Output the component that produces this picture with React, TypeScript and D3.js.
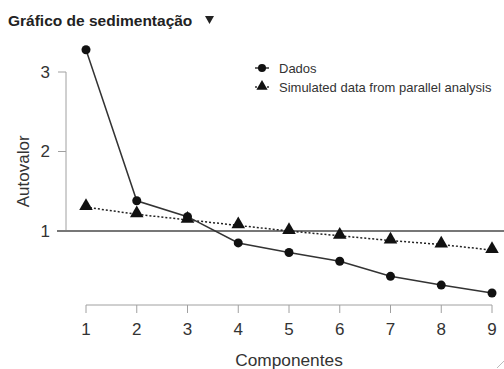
import React from "react"
import * as d3 from "d3"

const componentes = [1, 2, 3, 4, 5, 6, 7, 8, 9]
const dados = [3.28, 1.38, 1.18, 0.85, 0.73, 0.62, 0.43, 0.32, 0.22]
const simulados = [1.3, 1.21, 1.14, 1.07, 1.0, 0.94, 0.88, 0.83, 0.76]
const yTicks = [1, 2, 3]
const legendLabels = ["Dados", "Simulated data from parallel analysis"]

const W = 504
const H = 369
const font = "Arial, 'Liberation Sans', sans-serif"

const App = () => {
  const x = d3.scaleLinear().domain([1, 9]).range([86, 492])
  const y = d3.scaleLinear().domain([1, 3]).range([231, 72])

  const line = d3
    .line<number>()
    .x((d, i) => x(componentes[i]))
    .y(d => y(d))

  const tri = d3.symbol().type(d3.symbolTriangle).size(80)()
  const triSmall = d3.symbol().type(d3.symbolTriangle).size(55)()
  const axisGray = "#a0a0a0"

  return (
    <svg
      width={W}
      height={H}
      style={{ position: "absolute", left: 0, top: 0, background: "#fff" }}
      fontFamily={font}
    >
      {/* title */}
      <text x={8} y={26} fontSize={15.5} fontWeight="bold" fill="#222">
        Gráfico de sedimentação
      </text>
      <path d="M205,16 L214,16 L209.5,24 Z" fill="#222" />

      {/* y axis */}
      <line x1={66} x2={66} y1={y(3)} y2={y(1)} stroke={axisGray} />
      {yTicks.map(t => (
        <g key={t}>
          <line x1={58} x2={66} y1={y(t)} y2={y(t)} stroke={axisGray} />
          <text
            x={50}
            y={y(t)}
            dy="0.35em"
            textAnchor="end"
            fontSize={17}
            fill="#333"
          >
            {t}
          </text>
        </g>
      ))}
      <text
        transform={`translate(23,${y(1.75)}) rotate(-90)`}
        textAnchor="middle"
        dy="0.35em"
        fontSize={17}
        fill="#333"
      >
        Autovalor
      </text>

      {/* x axis */}
      <line x1={x(1)} x2={x(9)} y1={305} y2={305} stroke={axisGray} />
      {componentes.map(c => (
        <g key={c}>
          <line x1={x(c)} x2={x(c)} y1={305} y2={313} stroke={axisGray} />
          <text
            x={x(c)}
            y={329}
            dy="0.35em"
            textAnchor="middle"
            fontSize={17}
            fill="#333"
          >
            {c}
          </text>
        </g>
      ))}
      <text x={289} y={360} dy="0.35em" textAnchor="middle" fontSize={17.3} fill="#333">
        Componentes
      </text>

      {/* reference line at eigenvalue 1 */}
      <line x1={57} x2={W} y1={y(1)} y2={y(1)} stroke="#777" strokeWidth={2} />

      {/* simulated series */}
      <path
        d={line(simulados) || ""}
        fill="none"
        stroke="#222"
        strokeWidth={1.5}
        strokeDasharray="2,2"
      />
      {simulados.map((v, i) => (
        <path key={i} d={tri || ""} transform={`translate(${x(componentes[i])},${y(v) - 1})`} fill="#111" />
      ))}

      {/* data series */}
      <path d={line(dados) || ""} fill="none" stroke="#333" strokeWidth={1.5} />
      {dados.map((v, i) => (
        <circle key={i} cx={x(componentes[i])} cy={y(v)} r={4.5} fill="#111" />
      ))}

      {/* legend */}
      <g>
        <line x1={255} x2={269} y1={68} y2={68} stroke="#333" strokeWidth={1.5} />
        <circle cx={262} cy={68} r={4} fill="#111" />
        <text x={279} y={68} dy="0.35em" fontSize={13} fill="#333">
          {legendLabels[0]}
        </text>
        <line x1={255} x2={269} y1={87} y2={87} stroke="#333" strokeWidth={1.5} strokeDasharray="2,2" />
        <path d={triSmall || ""} transform="translate(262,86.5)" fill="#111" />
        <text x={279} y={87} dy="0.35em" fontSize={13} fill="#333">
          {legendLabels[1]}
        </text>
      </g>

      <line x1={497} x2={504} y1={368} y2={361} stroke="#bbb" />
    </svg>
  )
}

export default App
